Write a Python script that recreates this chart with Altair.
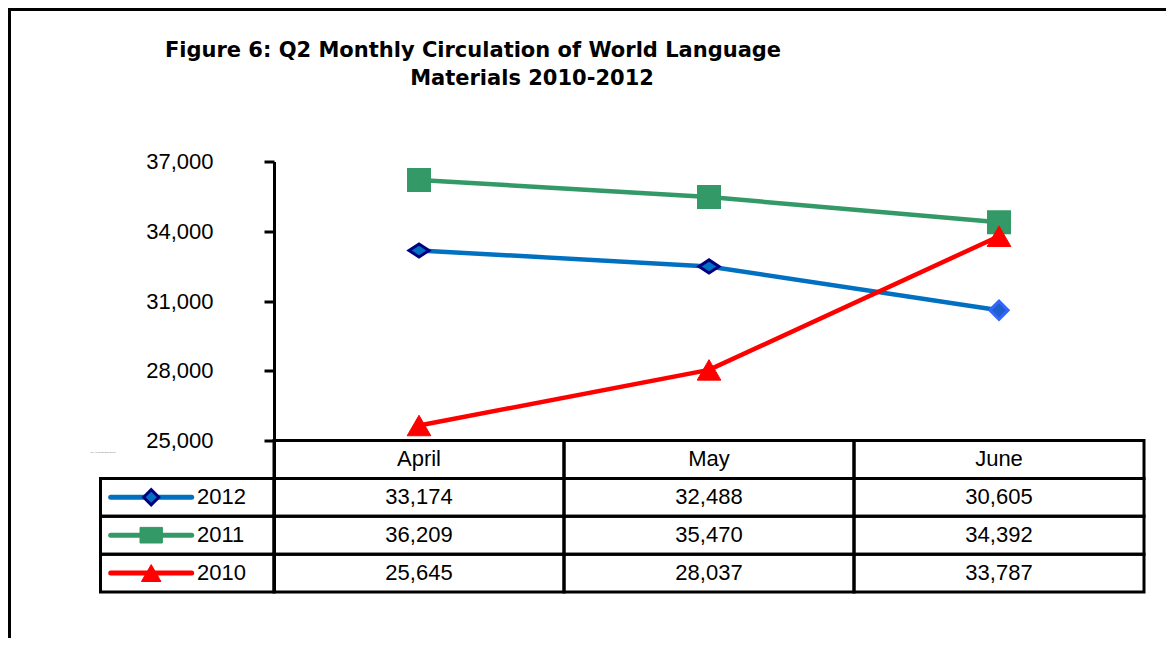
import altair as alt
import pandas as pd

# ---------------- data ----------------
months = ["April", "May", "June"]
years = ["2012", "2011", "2010"]
v2012 = [33174, 32488, 30605]
v2011 = [36209, 35470, 34392]
v2010 = [25645, 28037, 33787]
y_ticks = [25000, 28000, 31000, 34000, 37000]
title_lines = ["Figure 6: Q2 Monthly Circulation of World Language", "Materials 2010-2012"]
axis_note = "No. of Items Borrowed"
series_colors = ["#0070C0", "#339966", "#FF0000"]

# ---------------- layout (px) ----------------
COL_PX = 290.0
LEG_PX = 173.5
AXIS_PX = 279.0
ROW_PX = 37.875
N_ROWS = 4
Y_TOP, Y_BOT = 37000, 25000
U = (Y_TOP - Y_BOT) / AXIS_PX
ROW_U = ROW_PX * U
Y_MIN = Y_BOT - N_ROWS * ROW_U
X_MIN = -LEG_PX / COL_PX
W = (3 - X_MIN) * COL_PX
H = AXIS_PX + N_ROWS * ROW_PX
PAD_L, PAD_T = 92.5, 153.5
PAD_R = 1158 - PAD_L - W
PAD_B = 630 - PAD_T - H

FONT = "Liberation Sans"
FS = 22

xs = alt.Scale(domain=[X_MIN, 3], nice=False, zero=False)
ys = alt.Scale(domain=[Y_MIN, Y_TOP], nice=False, zero=False)
Y_AXIS = alt.Axis(values=y_ticks, format=",d", labelFont=FONT, labelFontSize=FS,
                  labelColor="black", tickSize=10, tickWidth=3, tickColor="black",
                  domainColor="black", domainWidth=3, labelPadding=51, offset=-LEG_PX,
                  grid=False, title=None)

# series table
series_vals = {"2012": v2012, "2011": v2011, "2010": v2010}
rows = []
for y in years:
    for i, m in enumerate(months):
        rows.append({"year": y, "month": m, "xi": i + 0.5, "value": series_vals[y][i]})
series_df = pd.DataFrame(rows)

# table cells
cells = []
for i, m in enumerate(months):
    cells.append({"x0": i, "x1": i + 1, "y0": Y_BOT, "y1": Y_BOT - ROW_U,
                  "xc": i + 0.5, "yc": Y_BOT - 0.5 * ROW_U, "label": m})
for r, y in enumerate(years, start=1):
    top = Y_BOT - r * ROW_U
    cells.append({"x0": X_MIN, "x1": 0, "y0": top, "y1": top - ROW_U,
                  "xc": X_MIN / 2, "yc": top - 0.5 * ROW_U, "label": ""})
    for i, m in enumerate(months):
        cells.append({"x0": i, "x1": i + 1, "y0": top, "y1": top - ROW_U,
                      "xc": i + 0.5, "yc": top - 0.5 * ROW_U,
                      "label": f"{series_vals[y][i]:,}"})
cells_df = pd.DataFrame(cells)

# legend column
LEG_C = (151.2 - 274) / COL_PX
LEG_HALF = 40.5 / COL_PX
LEG_TXT = (197 - 274) / COL_PX
leg_df = pd.DataFrame([
    {"year": y, "x0": LEG_C - LEG_HALF, "x1": LEG_C + LEG_HALF, "xc": LEG_C,
     "xt": LEG_TXT, "yc": Y_BOT - (r + 0.5) * ROW_U}
    for r, y in enumerate(years, start=1)
])

color = alt.Color("year:N", scale=alt.Scale(domain=years, range=series_colors), legend=None)

DIAMOND_FLAT = "M-1,0L0,-0.65L1,0L0,0.65Z"
RECT_FLAT = "M-1,-0.7L1,-0.7L1,0.7L-1,0.7Z"

base = alt.Chart(series_df)
X = alt.X("xi:Q", scale=xs, axis=None)
Y = alt.Y("value:Q", scale=ys, axis=Y_AXIS)

lines = base.mark_line(strokeWidth=4.5).encode(x=X, y=Y, color=color, detail="year:N")

p2012 = base.transform_filter("datum.year == '2012' && datum.month != 'June'").mark_point(
    shape=DIAMOND_FLAT, filled=True, fill="#0070C0", stroke="#000080", strokeWidth=3,
    size=400, opacity=1).encode(x=X, y=Y)
p2012j = base.transform_filter("datum.year == '2012' && datum.month == 'June'").mark_point(
    shape="diamond", filled=True, fill="#1F5FCC", stroke="#3366FF", strokeWidth=3,
    size=330, opacity=1).encode(x=X, y=Y)
p2011 = base.transform_filter("datum.year == '2011'").mark_point(
    shape="square", filled=True, fill="#339966", stroke="#339966", strokeWidth=2,
    size=484, opacity=1).encode(x=X, y=Y)
p2010 = base.transform_filter("datum.year == '2010'").mark_point(
    shape="triangle-up", filled=True, fill="#FF0000", stroke="#FF0000", strokeWidth=1,
    size=560, opacity=1).encode(x=X, y=Y)

cb = alt.Chart(cells_df)
cell_rects = cb.mark_rect(fillOpacity=0, stroke="black", strokeWidth=3).encode(
    x=alt.X("x0:Q", scale=xs, axis=None), x2="x1:Q",
    y=alt.Y("y0:Q", scale=ys, axis=Y_AXIS), y2="y1:Q")
cell_text = cb.mark_text(font=FONT, fontSize=FS, color="black", baseline="middle",
                         align="center").encode(
    x=alt.X("xc:Q", scale=xs, axis=None), y=alt.Y("yc:Q", scale=ys, axis=Y_AXIS),
    text="label:N")

lb = alt.Chart(leg_df)
LX = alt.X("xc:Q", scale=xs, axis=None)
LY = alt.Y("yc:Q", scale=ys, axis=Y_AXIS)
leg_lines = lb.mark_rule(strokeWidth=5, strokeCap="round").encode(
    x=alt.X("x0:Q", scale=xs, axis=None), x2="x1:Q", y=LY, color=color)
leg_2012 = lb.transform_filter("datum.year == '2012'").mark_point(
    shape="diamond", filled=True, fill="#0070C0", stroke="#000080", strokeWidth=3,
    size=230, opacity=1).encode(x=LX, y=LY)
leg_2011 = lb.transform_filter("datum.year == '2011'").mark_point(
    shape=RECT_FLAT, filled=True, fill="#339966", stroke="#339966", strokeWidth=1,
    size=500, opacity=1).encode(x=LX, y=LY)
leg_2010 = lb.transform_filter("datum.year == '2010'").mark_point(
    shape="triangle-up", filled=True, fill="#FF0000", stroke="#FF0000", strokeWidth=1,
    size=380, opacity=1).encode(x=LX, y=LY)
leg_text = lb.mark_text(font=FONT, fontSize=FS, color="black", baseline="middle",
                        align="left").encode(
    x=alt.X("xt:Q", scale=xs, axis=None), y=LY, text="year:N")

one = alt.Data(values=[{}])
border = alt.Chart(one).mark_rect(fillOpacity=0, stroke="black", strokeWidth=3).encode(
    x=alt.value(-91), x2=alt.value(1200), y=alt.value(-152), y2=alt.value(700))
t1 = alt.Chart(one).mark_text(text=title_lines[0], font="DejaVu Sans", fontWeight="bold",
                              fontSize=21, align="center", baseline="alphabetic",
                              color="black").encode(x=alt.value(372.5), y=alt.value(-104.5))
t2 = alt.Chart(one).mark_text(text=title_lines[1], font="DejaVu Sans", fontWeight="bold",
                              fontSize=21, align="center", baseline="alphabetic",
                              color="black").encode(x=alt.value(431.5), y=alt.value(-76.5))
note = alt.Chart(one).mark_text(text=axis_note, font=FONT, fontSize=2.5, color="#777777",
                                align="center", baseline="middle").encode(
    x=alt.value(2.5), y=alt.value(290.5))

chart = alt.layer(
    border, t1, t2, note,
    lines, p2011, p2012, p2012j, p2010,
    cell_rects, cell_text,
    leg_lines, leg_2011, leg_2012, leg_2010, leg_text,
).properties(
    width=W, height=H,
    background="white",
    autosize=alt.AutoSizeParams(type="none"),
    padding={"left": PAD_L, "top": PAD_T, "right": PAD_R, "bottom": PAD_B},
).configure_view(stroke=None)

chart.save("out.html", embed_options={"renderer": "svg", "actions": False})
